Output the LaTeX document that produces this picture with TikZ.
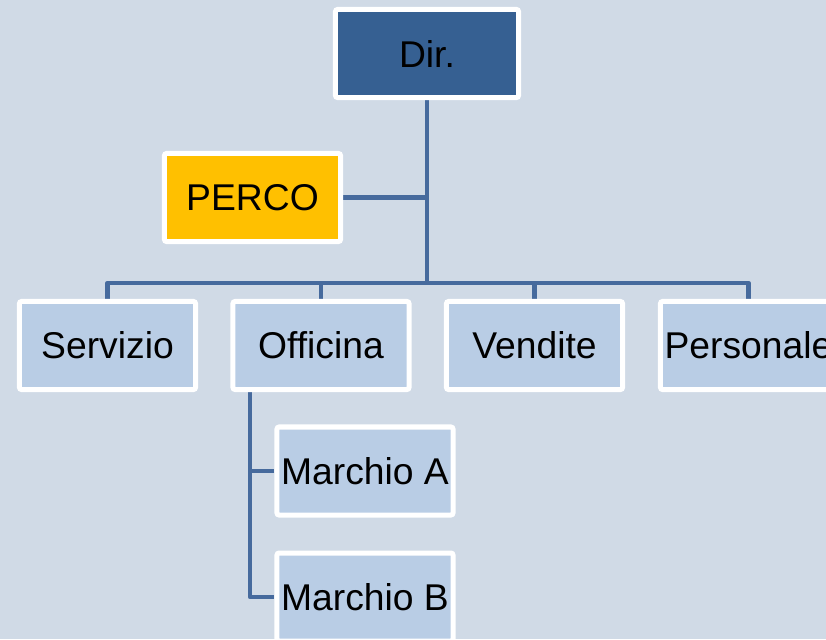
\documentclass[tikz,border=0pt]{standalone}
\usepackage{fontspec}
\setmainfont{Liberation Sans}
\usetikzlibrary{backgrounds}

\definecolor{bgcol}{RGB}{208,218,230}
\definecolor{dircol}{RGB}{54,96,146}
\definecolor{percocol}{RGB}{255,192,0}
\definecolor{unitcol}{RGB}{185,205,229}
\definecolor{linkcol}{RGB}{70,106,157}

\tikzset{
  unit/.style={draw=white,line width=0.125cm,rounded corners=1.5pt,
    minimum width=4.4cm,minimum height=2.2cm,inner sep=0pt,
    fill=unitcol,font=\fontsize{26.5}{30}\selectfont},
  link/.style={draw=linkcol,line width=0.115cm,line join=round}
}

\begin{document}
\begin{tikzpicture}[x=0.025cm,y=-0.025cm]
      % \draw[help lines](0,0) grid[step=50] (826,639);
      \clip (0,0) rectangle (826,639);
      \useasboundingbox (0,0) rectangle (826,639);

      \draw (427,53.5) node[unit,fill=dircol,minimum width=4.575cm] (dir) {Dir.};
      \draw (252.5,197.5) node[unit,fill=percocol] (perco) {PERCO};
      \draw (107.5,345.5) node[unit] (servizio) {Servizio};
      \draw (321,345.5) node[unit] (officina) {Officina};
      \draw (534.5,345.5) node[unit] (vendite) {Vendite};
      \draw (748.5,345.5) node[unit] (personale) {Personale};
      \draw (365,471) node[unit] (marchioA) {Marchio A};
      \draw (365,597) node[unit] (marchioB) {Marchio B};

      \coordinate (bar) at (427,283);
      \coordinate (spine) at (250,392);

      \begin{scope}[on background layer]
        \fill[bgcol] (0,0) rectangle (826,639);
        \draw[link] (dir) -- (dir |- bar);
        \draw[link] (perco) -- (perco -| dir);
        \draw[link] (servizio) |- (bar) -| (personale);
        \draw[link] (officina) -- (officina |- bar);
        \draw[link] (vendite) -- (vendite |- bar);
        \draw[link] (spine) |- (marchioB);
        \draw[link] (marchioA) -- (marchioA -| spine);
      \end{scope}
    \end{tikzpicture}
\end{document}
